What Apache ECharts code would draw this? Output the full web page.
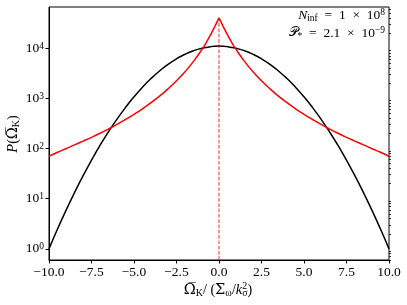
<!DOCTYPE html>
<html><head><meta charset="utf-8">
<script src="https://cdn.jsdelivr.net/npm/echarts@6/dist/echarts.min.js"></script>
<style>html,body{margin:0;padding:0;background:#fff}#c{width:407px;height:305px}</style>
</head><body><div id="c"></div>
<script>
// x positions for the black (Gaussian-like) curve
const xBlack = [-10,-9.5,-9,-8.5,-8,-7.5,-7,-6.5,-6,-5.5,-5,-4.5,-4,-3.5,-3,-2.5,-2,-1.5,-1,-0.5,0,
  0.5,1,1.5,2,2.5,3,3.5,4,4.5,5,5.5,6,6.5,7,7.5,8,8.5,9,9.5,10];
const yBlack = [1.0,2.48,5.86,13.2,28.5,58.5,115,215,385,657,1072,1667,2475,3509,4747,6131,7557,8896,9991,10711,10965,
  10711,9991,8896,7557,6131,4747,3509,2475,1667,1072,657,385,215,115,58.5,28.5,13.2,5.86,2.48,1.0];
// x positions for the red (cusped) curve
const xRed = [-10,-9.5,-9,-8.5,-8,-7.5,-7,-6.5,-6,-5.5,-5,-4.5,-4,-3.5,-3,-2.5,-2,-1.5,-1,-0.75,-0.5,-0.25,0,
  0.25,0.5,0.75,1,1.5,2,2.5,3,3.5,4,4.5,5,5.5,6,6.5,7,7.5,8,8.5,9,9.5,10];
const yRed = [70,84,99,118,140,167,201,245,302,378,479,619,818,1107,1544,2236,3385,5440,9450,12940,18290,26920,40000,
  26920,18290,12940,9450,5440,3385,2236,1544,1107,818,619,479,378,302,245,201,167,140,118,99,84,70];
// vertical dashed marker at x = 0
const xMark = [0, 0];
const yMark = [0.6, 40000];
// axis ticks
const yMajor = [1,10,100,1000,10000];
const yMinor = [];
[0.1,1,10,100,1000,10000].forEach(d=>{for(let k=2;k<=9;k++){const v=k*d; if(v>0.6&&v<66000) yMinor.push(v);}});

const FONT = 'Liberation Serif';
const zip = (a,b)=>a.map((v,i)=>[v,b[i]]);
const redPts = zip(xRed,yRed);
const redLeft = redPts.filter(p=>p[0]<=0);
const redRight = redPts.filter(p=>p[0]>=0);
const chart = echarts.init(document.getElementById('c'), null, {renderer:'canvas'});
const yBase = {
  type:'log', logBase:10, min:0.6, max:66000, splitLine:{show:false},
  axisLine:{show:true, onZero:false, lineStyle:{color:'#000', width:1}}
};
const redStyle = {color:'#ff0000', width:1.5};
chart.setOption({
  animation:false,
  grid:{left:49, right:18, top:7, bottom:45, show:true, borderColor:'#000', borderWidth:1},
  xAxis:{type:'value', min:-10, max:10, interval:2.5, splitLine:{show:false},
    axisLine:{show:true, onZero:false, lineStyle:{color:'#000', width:1}},
    axisTick:{show:true, length:3.5, lineStyle:{color:'#000'}},
    axisLabel:{color:'#000', fontFamily:FONT, fontSize:13.5, margin:5,
      formatter:v=>(v<0?'\u2212':'')+Math.abs(v).toFixed(1)}},
  yAxis:[
    Object.assign({}, yBase, {
      axisTick:{show:true, length:3.5, lineStyle:{color:'#000'}, customValues:yMajor},
      axisLabel:{show:true, customValues:yMajor, margin:5, color:'#000', fontFamily:FONT, fontSize:13.5,
        formatter:v=>'10{p|'+Math.round(Math.log10(v))+'}',
        rich:{p:{fontSize:9.5, fontFamily:FONT, color:'#000', verticalAlign:'top', lineHeight:14}}}
    }),
    Object.assign({}, yBase, {
      axisLine:{show:false, onZero:false},
      axisTick:{show:true, length:2, lineStyle:{color:'#000', width:0.8}, customValues:yMinor},
      axisLabel:{show:false}
    })
  ],
  series:[
    {type:'line', data:zip(xBlack,yBlack), smooth:true, showSymbol:false, symbol:'none',
      lineStyle:{color:'#000', width:1.5}, z:3},
    {type:'line', data:redLeft, smooth:true, showSymbol:false, symbol:'none', lineStyle:redStyle, z:4},
    {type:'line', data:redRight, smooth:true, showSymbol:false, symbol:'none', lineStyle:redStyle, z:4},
    {type:'line', data:zip(xMark,yMark), showSymbol:false, symbol:'none',
      lineStyle:{color:'rgba(255,0,0,0.7)', width:1.2, type:[3.7,1.6]}, z:5}
  ],
  graphic:[
    {type:'text', x:13, y:134, rotation:Math.PI/2, style:{
      text:'{i|P}({o|\u03A9\u0305}{s|K})', fill:'#000', align:'center', verticalAlign:'middle',
      font:'14px '+FONT,
      rich:{i:{fontStyle:'italic', fontSize:14.5, fontFamily:FONT, lineHeight:17},
            o:{fontSize:14.5, fontFamily:'DejaVu Serif', lineHeight:17},
            s:{fontSize:10, fontFamily:FONT, verticalAlign:'bottom', lineHeight:17}}}},
    {type:'text', x:218, y:290, style:{
      text:'{o|\u03A9\u0305}{s|K}/ ({o|\u03A3}{s|\u03C9}/{i|k}{p|2}{s2|\u03C3})', fill:'#000', align:'center', verticalAlign:'middle',
      font:'14px '+FONT,
      rich:{i:{fontStyle:'italic', fontSize:14.5, fontFamily:FONT, lineHeight:17},
            o:{fontSize:14.5, fontFamily:'DejaVu Serif', lineHeight:17},
            s:{fontSize:10, fontFamily:FONT, verticalAlign:'bottom', lineHeight:17},
            s2:{fontSize:10, fontFamily:FONT, verticalAlign:'bottom', lineHeight:17, padding:[0,0,0,-5]},
            p:{fontSize:10, fontFamily:FONT, verticalAlign:'top', lineHeight:17}}}},
    {type:'text', x:385, y:15, style:{
      text:'{i|N}{s|inf}  =  1  \u00D7  10{p|8}', fill:'#000', align:'right', verticalAlign:'middle',
      font:'13.5px '+FONT,
      rich:{i:{fontStyle:'italic', fontSize:13.5, fontFamily:FONT, lineHeight:16},
            s:{fontSize:9.5, fontFamily:FONT, verticalAlign:'bottom', lineHeight:16},
            p:{fontSize:9.5, fontFamily:FONT, verticalAlign:'top', lineHeight:16}}}},
    {type:'text', x:385, y:33, style:{
      text:'{i|\uD835\uDCAB}{s|*}  =  2.1  \u00D7  10{p|\u22129}', fill:'#000', align:'right', verticalAlign:'middle',
      font:'13.5px '+FONT,
      rich:{i:{fontSize:13, fontFamily:'DejaVu Sans', lineHeight:16},
            s:{fontSize:9.5, fontFamily:FONT, verticalAlign:'bottom', lineHeight:16},
            p:{fontSize:9.5, fontFamily:FONT, verticalAlign:'top', lineHeight:16}}}}
  ]
});
</script></body></html>
